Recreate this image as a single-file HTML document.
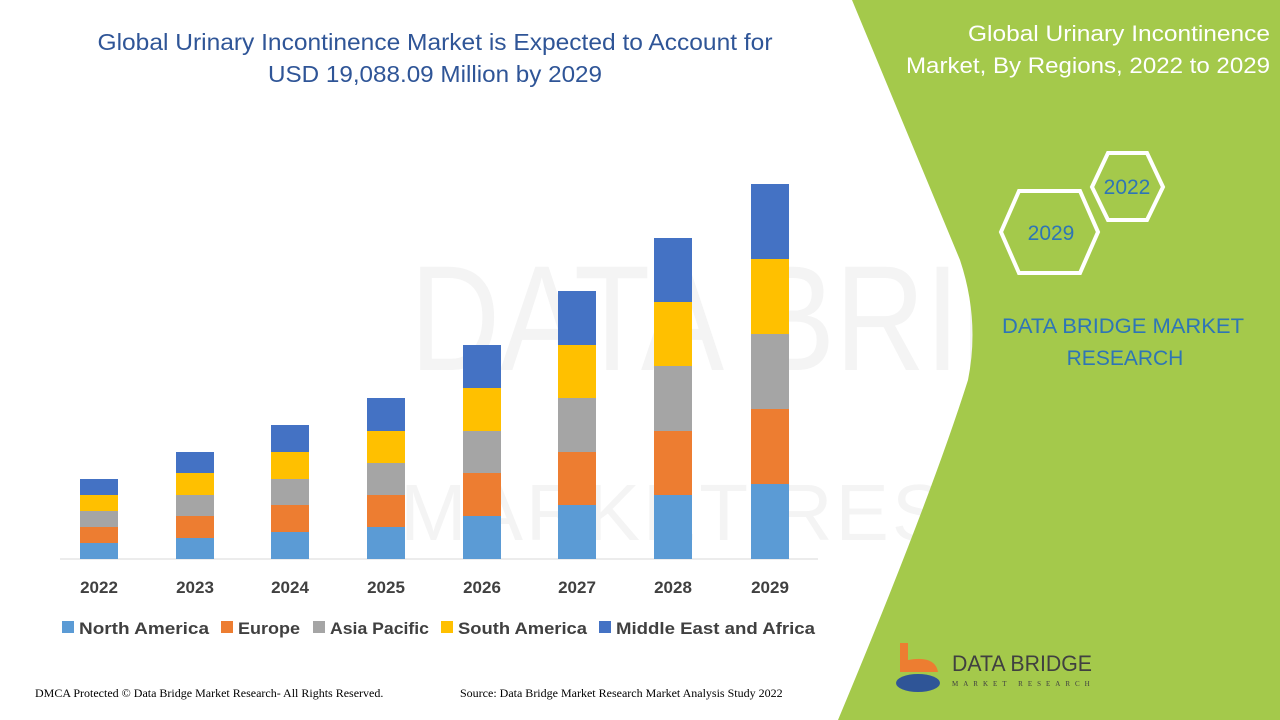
<!DOCTYPE html>
<html><head><meta charset="utf-8"><style>
body{margin:0;width:1280px;height:720px;overflow:hidden;background:#fff;font-family:"Liberation Sans",sans-serif;}
</style></head><body>
<svg width="1280" height="720" xmlns="http://www.w3.org/2000/svg" style="position:absolute;left:0;top:0">
<rect width="1280" height="720" fill="#fff"/>
<g font-family="Liberation Sans, sans-serif" font-size="150" fill="#f4f4f4">
<text x="410" y="370" textLength="820" lengthAdjust="spacingAndGlyphs">DATA BRIDGE</text>
<text x="400" y="540" font-size="80" textLength="840" lengthAdjust="spacing">MARKET RESEARCH</text>
</g>
<path d="M852,0 L1280,0 L1280,720 L838,720 Q930,500 968,380 Q980,320 960,260 Z" fill="#a4c94b"/>
<g font-family="Liberation Sans, sans-serif" fill="#2f5597" font-size="23" text-anchor="middle">
<text x="435" y="50" textLength="675" lengthAdjust="spacingAndGlyphs">Global Urinary Incontinence Market is Expected to Account for</text>
<text x="435" y="82" textLength="334" lengthAdjust="spacingAndGlyphs">USD 19,088.09 Million by 2029</text>
</g>
<g font-family="Liberation Sans, sans-serif" fill="#fff" font-size="22" text-anchor="end">
<text x="1270" y="41" textLength="302" lengthAdjust="spacingAndGlyphs">Global Urinary Incontinence</text>
<text x="1270" y="73" textLength="364" lengthAdjust="spacingAndGlyphs">Market, By Regions, 2022 to 2029</text>
</g>
<polygon points="1092,187 1108,153 1147,153 1163,187 1147,220 1108,220" fill="none" stroke="#fff" stroke-width="4"/>
<polygon points="1001,232 1019,191 1080,191 1098,232 1080,273 1019,273" fill="none" stroke="#fff" stroke-width="4"/>
<g font-family="Liberation Sans, sans-serif" fill="#2e75b6" font-size="21" text-anchor="middle">
<text x="1127" y="194">2022</text>
<text x="1051" y="240">2029</text>
<text x="1123" y="333" textLength="242" lengthAdjust="spacingAndGlyphs">DATA BRIDGE MARKET</text>
<text x="1125" y="365">RESEARCH</text>
</g>
<line x1="60" y1="559" x2="818" y2="559" stroke="#d9d9d9" stroke-width="1"/>
<g>
<rect x="80" y="543" width="38" height="16" fill="#5b9bd5"/><rect x="80" y="527" width="38" height="16" fill="#ed7d31"/><rect x="80" y="511" width="38" height="16" fill="#a5a5a5"/><rect x="80" y="495" width="38" height="16" fill="#ffc000"/><rect x="80" y="479" width="38" height="16" fill="#4472c4"/>
<rect x="176" y="538" width="38" height="21" fill="#5b9bd5"/><rect x="176" y="516" width="38" height="22" fill="#ed7d31"/><rect x="176" y="495" width="38" height="21" fill="#a5a5a5"/><rect x="176" y="473" width="38" height="22" fill="#ffc000"/><rect x="176" y="452" width="38" height="21" fill="#4472c4"/>
<rect x="271" y="532" width="38" height="27" fill="#5b9bd5"/><rect x="271" y="505" width="38" height="27" fill="#ed7d31"/><rect x="271" y="479" width="38" height="26" fill="#a5a5a5"/><rect x="271" y="452" width="38" height="27" fill="#ffc000"/><rect x="271" y="425" width="38" height="27" fill="#4472c4"/>
<rect x="367" y="527" width="38" height="32" fill="#5b9bd5"/><rect x="367" y="495" width="38" height="32" fill="#ed7d31"/><rect x="367" y="463" width="38" height="32" fill="#a5a5a5"/><rect x="367" y="431" width="38" height="32" fill="#ffc000"/><rect x="367" y="398" width="38" height="33" fill="#4472c4"/>
<rect x="463" y="516" width="38" height="43" fill="#5b9bd5"/><rect x="463" y="473" width="38" height="43" fill="#ed7d31"/><rect x="463" y="431" width="38" height="42" fill="#a5a5a5"/><rect x="463" y="388" width="38" height="43" fill="#ffc000"/><rect x="463" y="345" width="38" height="43" fill="#4472c4"/>
<rect x="558" y="505" width="38" height="54" fill="#5b9bd5"/><rect x="558" y="452" width="38" height="53" fill="#ed7d31"/><rect x="558" y="398" width="38" height="54" fill="#a5a5a5"/><rect x="558" y="345" width="38" height="53" fill="#ffc000"/><rect x="558" y="291" width="38" height="54" fill="#4472c4"/>
<rect x="654" y="495" width="38" height="64" fill="#5b9bd5"/><rect x="654" y="431" width="38" height="64" fill="#ed7d31"/><rect x="654" y="366" width="38" height="65" fill="#a5a5a5"/><rect x="654" y="302" width="38" height="64" fill="#ffc000"/><rect x="654" y="238" width="38" height="64" fill="#4472c4"/>
<rect x="751" y="484" width="38" height="75" fill="#5b9bd5"/><rect x="751" y="409" width="38" height="75" fill="#ed7d31"/><rect x="751" y="334" width="38" height="75" fill="#a5a5a5"/><rect x="751" y="259" width="38" height="75" fill="#ffc000"/><rect x="751" y="184" width="38" height="75" fill="#4472c4"/>
</g>
<g font-family="Liberation Sans, sans-serif" fill="#404040" font-size="17" font-weight="bold" text-anchor="middle">
<text x="99" y="593">2022</text><text x="195" y="593">2023</text><text x="290" y="593">2024</text><text x="386" y="593">2025</text><text x="482" y="593">2026</text><text x="577" y="593">2027</text><text x="673" y="593">2028</text><text x="770" y="593">2029</text>
</g>
<g font-family="Liberation Sans, sans-serif" fill="#404040" font-size="17" font-weight="bold">
<rect x="62" y="621" width="12" height="12" fill="#5b9bd5"/><text x="79" y="634" textLength="130" lengthAdjust="spacingAndGlyphs">North America</text>
<rect x="221" y="621" width="12" height="12" fill="#ed7d31"/><text x="238" y="634" textLength="62" lengthAdjust="spacingAndGlyphs">Europe</text>
<rect x="313" y="621" width="12" height="12" fill="#a5a5a5"/><text x="330" y="634" textLength="99" lengthAdjust="spacingAndGlyphs">Asia Pacific</text>
<rect x="441" y="621" width="12" height="12" fill="#ffc000"/><text x="458" y="634" textLength="129" lengthAdjust="spacingAndGlyphs">South America</text>
<rect x="599" y="621" width="12" height="12" fill="#4472c4"/><text x="616" y="634" textLength="199" lengthAdjust="spacingAndGlyphs">Middle East and Africa</text>
</g>
<g font-family="Liberation Serif, serif" fill="#000" font-size="12">
<text x="35" y="697">DMCA Protected © Data Bridge Market Research- All Rights Reserved.</text>
<text x="460" y="697">Source: Data Bridge Market Research Market Analysis Study 2022</text>
</g>
<path d="M900,643 L908,643 L908,660 Q935,655 938,672 L900,672 Z" fill="#ed7d31"/>
<ellipse cx="918" cy="683" rx="22" ry="9" fill="#2f5597"/>
<text x="952" y="671" font-family="Liberation Sans, sans-serif" font-size="22" fill="#404040" textLength="140" lengthAdjust="spacingAndGlyphs">DATA BRIDGE</text>
<text x="952" y="686" font-family="Liberation Serif, serif" font-size="7" fill="#404040" letter-spacing="5">MARKET RESEARCH</text>
</svg>
</body></html>
